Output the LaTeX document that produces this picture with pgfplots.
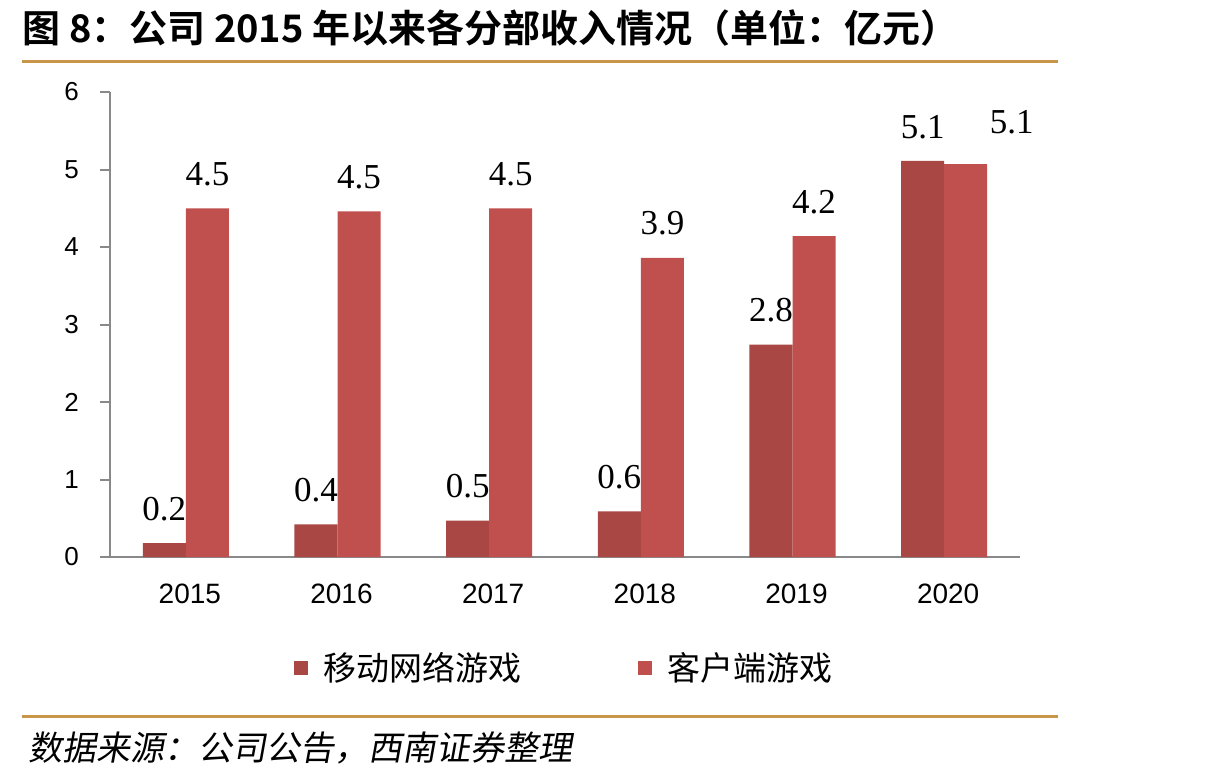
\documentclass[border=0pt]{standalone}
\usepackage{pgfplots}
\pgfplotsset{compat=1.18}
\usepackage{fontspec}
\setmainfont{Liberation Serif}
\newfontfamily\sansf{Liberation Sans}
\newfontfamily\cjk{Noto Sans CJK SC}
\newfontfamily\cjkb{Noto Sans CJK SC}[BoldFont={* Bold}]
\newfontfamily\cjki{Noto Sans CJK SC}[FakeSlant=0.18]
\definecolor{darkred}{RGB}{168,71,67}
\definecolor{lightred}{RGB}{192,80,77}
\definecolor{gold}{RGB}{200,150,72}
\definecolor{axgray}{RGB}{137,137,137}
\begin{document}
\begin{tikzpicture}
\path[use as bounding box] (0,0) rectangle (605pt,391.5pt);
\node[anchor=base west, inner sep=0pt] at (11pt,370pt) {\cjkb\bfseries\fontsize{19}{19}\selectfont 图 8：公司 2015 年以来各分部收入情况（单位：亿元）};
\draw[gold, line width=1.5pt] (11pt,360.5pt) -- (529pt,360.5pt);
\draw[gold, line width=1.5pt] (11pt,33.5pt) -- (529pt,33.5pt);
\node[anchor=base west, inner sep=0pt] at (14pt,11.5pt) {\cjki\fontsize{17}{17}\selectfont 数据来源：公司公告，西南证券整理};
\begin{axis}[
  at={(55pt,113pt)}, anchor=south west,
  scale only axis, width=455pt, height=232.5pt,
  xmin=-0.5, xmax=5.5, ymin=0, ymax=6,
  axis x line*=bottom, axis y line*=left,
  axis line style={draw=axgray, line width=1pt, -},
  xtick={0,...,5},
  xticklabels={2015,2016,2017,2018,2019,2020},
  ytick={0,...,6},
  major x tick style={draw=none},
  major y tick style={draw=axgray, line width=1pt},
  tick align=outside, major tick length=5pt,
  /pgf/number format/assume math mode=true,
  yticklabel style={font=\sansf\fontsize{13}{13}\selectfont, xshift=-7pt},
  xticklabel style={font=\sansf\fontsize{14}{14}\selectfont, yshift=-5pt, xshift=2pt},
  legend style={at={(0.5,-0.239)}, anchor=center, draw=none, fill=none,
    font=\cjk\fontsize{16.5}{16.5}\selectfont, column sep=0pt,
    /tikz/every even column/.append style={column sep=56pt}},
  legend columns=2,
  legend image code/.code={\fill[#1] (0pt,-3.5pt) rectangle (7pt,3.5pt);},
  nodes near coords style={font=\fontsize{17.5}{17.5}\selectfont, anchor=south, inner sep=0pt, yshift=11pt, text=black},
]
\addplot[ybar, bar width=0.284, bar shift=-0.142, fill=darkred, draw=none,
  nodes near coords, point meta=explicit symbolic,
  every node near coord/.append style={xshift=-10.77pt}]
  coordinates {(0,0.18)[0.2] (1,0.42)[0.4] (2,0.47)[0.5] (3,0.59)[0.6] (4,2.74)[2.8] (5,5.11)[5.1]};
\addlegendentry{\hspace{6pt}移动网络游戏}
\addplot[ybar, bar width=0.284, bar shift=0.142, fill=lightred, draw=none,
  nodes near coords, point meta=explicit symbolic,
  every node near coord/.append style={xshift=10.77pt}]
  coordinates {(0,4.5)[4.5] (1,4.46)[4.5] (2,4.5)[4.5] (3,3.86)[3.9] (4,4.14)[4.2] (5,5.07)[]};
\addlegendentry{\hspace{6pt}客户端游戏}
\addplot[draw=none, mark=none, forget plot, nodes near coords, point meta=explicit symbolic,
  every node near coord/.append style={xshift=23pt, yshift=4pt}]
  coordinates {(5.142,5.07)[5.1]};
\end{axis}
\end{tikzpicture}
\end{document}
